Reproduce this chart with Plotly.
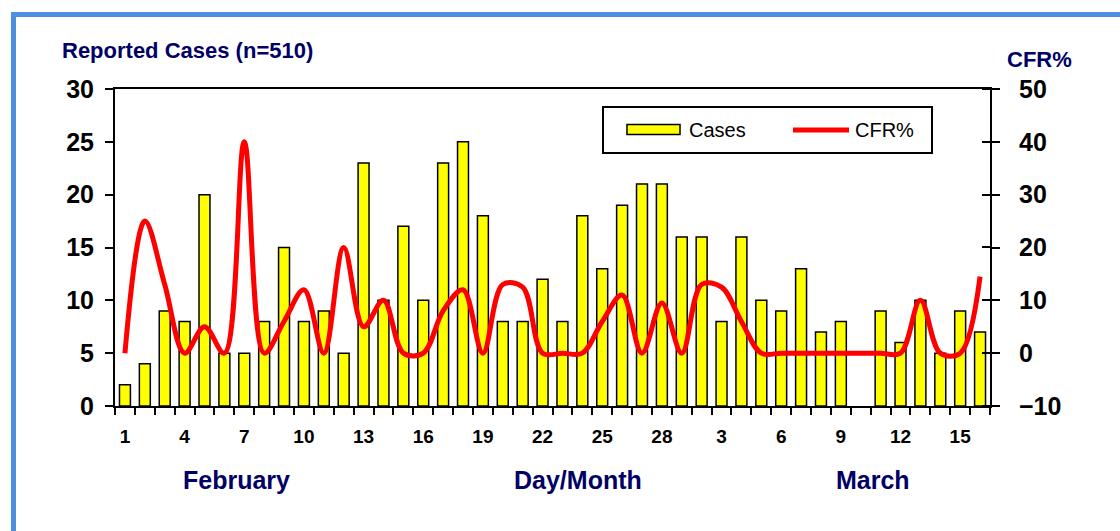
import plotly.graph_objects as go

# ---- data ----
feb_days = list(range(1, 29))
mar_days = list(range(1, 17))
day_labels = [str(d) for d in feb_days] + [str(d) for d in mar_days]

cases_feb = [2, 4, 9, 8, 20, 5, 5, 8, 15, 8, 9, 5, 23, 10, 17, 10, 23, 25, 18, 8,
             8, 12, 8, 18, 13, 19, 21, 21]
cases_mar = [16, 16, 8, 16, 10, 9, 13, 7, 8, None, 9, 6, 10, 5, 9, 7]

cfr_feb = [0, 25, 13, 0, 5, 0, 40, 0, 6, 12, 0, 20, 5, 10, 0, 0, 8, 12, 0, 13,
           12.5, 0, 0, 0, 6, 11, 0, 9.5]
cfr_mar = [0, 13, 12.5, 6, 0, 0, 0, 0, 0, 0, 0, 0, 10, 0, 0, 14.5]

cases = cases_feb + cases_mar
cfr = cfr_feb + cfr_mar
x_idx = list(range(1, len(day_labels) + 1))
label_every = 3
tick_vals = x_idx[::label_every]
tick_text = day_labels[::label_every]

# ---- layout geometry (pixels) ----
W, H = 1120, 531
L, R, T, B = 115, 990, 89, 406


def px(x):
    return (x - L) / (R - L)


def py(y):
    return (B - y) / (B - T)


FONT = "Liberation Sans, Arial, sans-serif"
NAVY = "#000066"

fig = go.Figure()
fig.add_trace(go.Bar(
    x=x_idx, y=cases, name="Cases",
    marker=dict(color="#FFFF00", line=dict(color="black", width=1.5)),
    showlegend=False,
))
fig.add_trace(go.Scatter(
    x=x_idx, y=cfr, name="CFR%", yaxis="y2", mode="lines",
    line=dict(color="#FF0000", width=5, shape="spline", smoothing=1.0),
    showlegend=False,
))

fig.update_layout(
    width=W, height=H,
    margin=dict(l=L, r=W - R, t=T, b=H - B, pad=0),
    paper_bgcolor="white", plot_bgcolor="white",
    bargap=0.45,
    font=dict(family=FONT, color="black"),
    xaxis=dict(
        range=[0.5, len(x_idx) + 0.5],
        tickmode="array", tickvals=tick_vals, ticktext=tick_text,
        ticks="outside", ticklen=7, tickcolor="rgba(0,0,0,0)",
        tickfont=dict(size=19, family=FONT, color="black", weight="bold"),
        ticklabelstandoff=5,
        minor=dict(tick0=0.5, dtick=1, ticks="outside", ticklen=7,
                   tickwidth=1.5, tickcolor="black"),
        showline=True, linecolor="black", linewidth=2, mirror=True,
        showgrid=False, zeroline=False,
    ),
    yaxis=dict(
        range=[0, 30], dtick=5, tick0=0,
        ticks="outside", ticklen=8, tickwidth=2, tickcolor="black",
        tickfont=dict(size=25, family=FONT, color="black", weight="bold"),
        ticklabelstandoff=6,
        showline=True, linecolor="black", linewidth=2,
        showgrid=False, zeroline=False,
    ),
    yaxis2=dict(
        range=[-10, 50], dtick=10, tick0=-10,
        overlaying="y", side="right",
        ticks="outside", ticklen=8, tickwidth=2, tickcolor="black",
        minor=dict(tick0=-9.999, dtick=10, ticks="inside", ticklen=8,
                   tickwidth=2, tickcolor="black"),
        tickfont=dict(size=25, family=FONT, color="black", weight="bold"),
        ticklabelstandoff=14,
        showline=True, linecolor="black", linewidth=2,
        showgrid=False, zeroline=False,
    ),
)

annotations = [
    dict(text="Reported Cases (n=510)", x=px(60), y=py(50), xanchor="left",
         yanchor="middle", font=dict(size=22, color=NAVY, family=FONT, weight="bold")),
    dict(text="CFR%", x=px(1005), y=py(60), xanchor="left", yanchor="middle",
         font=dict(size=22, color=NAVY, family=FONT, weight="bold")),
    dict(text="February", x=px(236), y=py(480), xanchor="center", yanchor="middle",
         font=dict(size=25, color=NAVY, family=FONT, weight="bold")),
    dict(text="Day/Month", x=px(578), y=py(480), xanchor="center", yanchor="middle",
         font=dict(size=25, color=NAVY, family=FONT, weight="bold")),
    dict(text="March", x=px(873), y=py(480), xanchor="center", yanchor="middle",
         font=dict(size=25, color=NAVY, family=FONT, weight="bold")),
    dict(text="Cases", x=px(687), y=py(130), xanchor="left", yanchor="middle",
         font=dict(size=20, color="black", family=FONT)),
    dict(text="CFR%", x=px(853), y=py(130), xanchor="left", yanchor="middle",
         font=dict(size=20, color="black", family=FONT)),
]
for a in annotations:
    a.update(xref="paper", yref="paper", showarrow=False)
fig.update_layout(annotations=annotations)

shapes = [
    # outer blue frame
    dict(type="rect", x0=px(13.5), y0=py(545), x1=px(1135), y1=py(14.5),
         line=dict(color="#4C8FDF", width=5), fillcolor="rgba(0,0,0,0)"),
    # legend box
    dict(type="rect", x0=px(603), y0=py(153), x1=px(932), y1=py(107),
         line=dict(color="black", width=2), fillcolor="white"),
    # legend bar swatch
    dict(type="rect", x0=px(627), y0=py(134.5), x1=px(680), y1=py(124.5),
         line=dict(color="black", width=1.5), fillcolor="#FFFF00"),
    # legend line swatch
    dict(type="line", x0=px(793), y0=py(130), x1=px(849), y1=py(130),
         line=dict(color="#FF0000", width=5)),
]
for s in shapes:
    s.update(xref="paper", yref="paper")
fig.update_layout(shapes=shapes)

fig.write_html(
    "out.html",
    config={"displayModeBar": False},
    post_script="document.body.style.margin='0';document.body.style.overflow='hidden';",
)
